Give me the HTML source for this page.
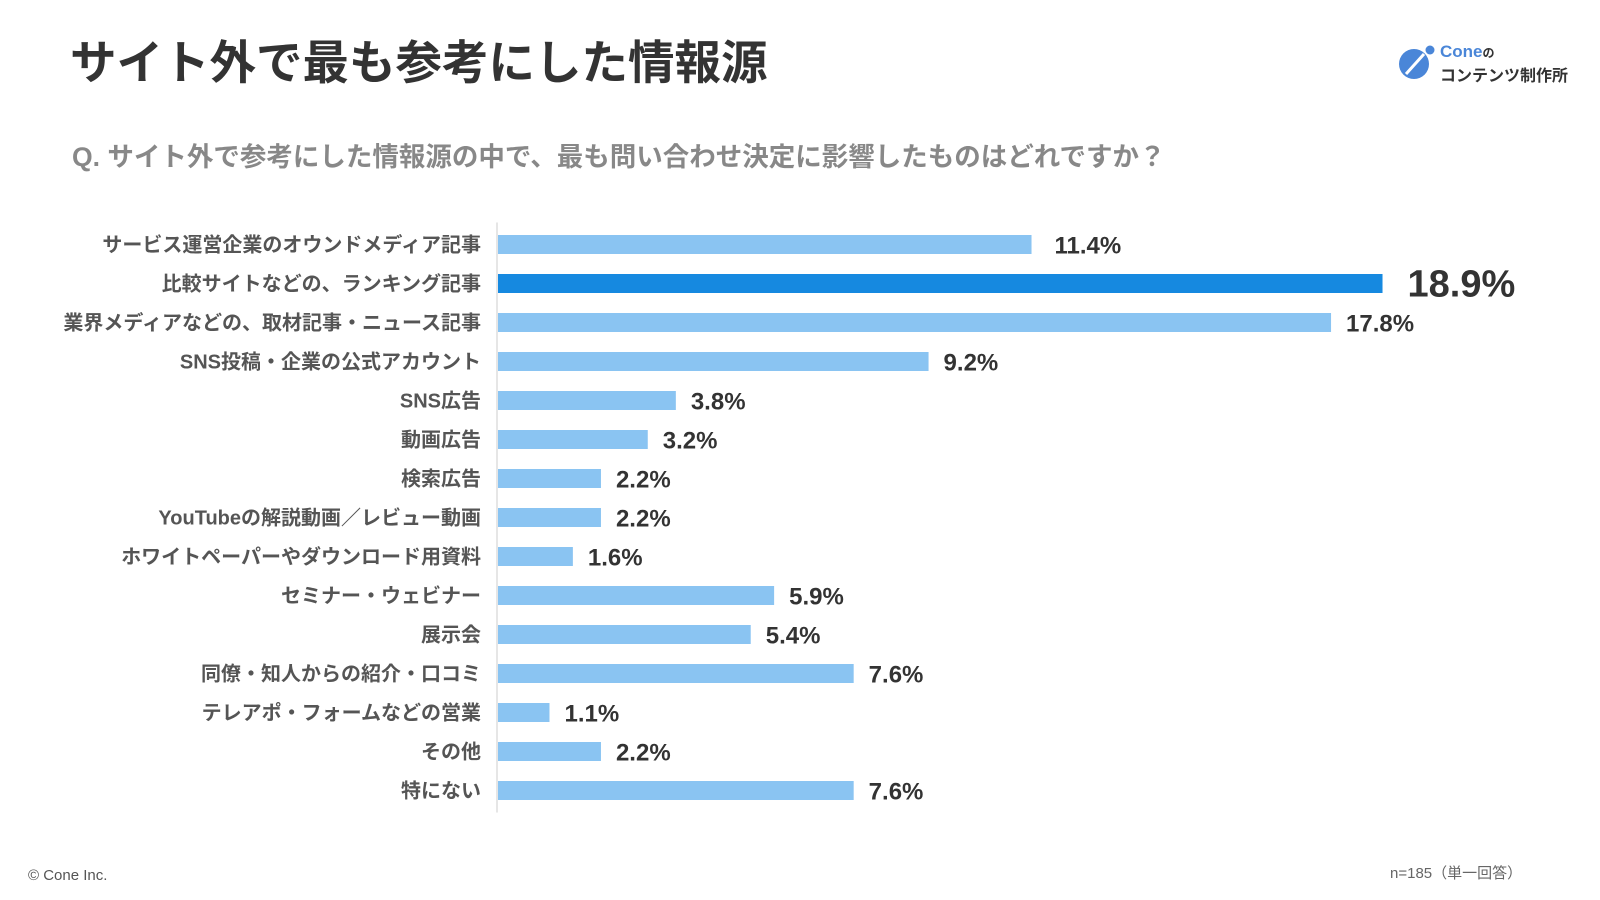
<!DOCTYPE html>
<html><head><meta charset="utf-8">
<style>
body{margin:0;width:1600px;height:900px;background:#fff;overflow:hidden;font-family:"Liberation Sans","Noto Sans CJK JP",sans-serif;position:relative}
.t{position:absolute;white-space:nowrap}
</style></head><body>
<div class="t" style="left:70px;top:26px;font-size:46.5px;font-weight:bold;color:#333">サイト外で最も参考にした情報源</div>
<div class="t" style="left:72px;top:135px;font-size:26.5px;font-weight:bold;color:#888">Q. サイト外で参考にした情報源の中で、最も問い合わせ決定に影響したものはどれですか？</div>
<div style="position:absolute;left:1398px;top:42px;width:190px;height:40px">
<svg width="40" height="40" style="position:absolute;left:0;top:0"><circle cx="16" cy="22" r="15" fill="#4a86d8"/><line x1="8" y1="32" x2="26" y2="12" stroke="#fff" stroke-width="3"/><circle cx="32" cy="8" r="4.5" fill="#4a86d8"/></svg>
<div class="t" style="left:42px;top:0;font-size:17px;color:#4a86d8;font-weight:bold">Cone<span style="color:#333;font-size:12px">の</span></div>
<div class="t" style="left:42px;top:20px;font-size:16px;color:#333;font-weight:bold">コンテンツ制作所</div>
</div>
<svg id="chart" width="1600" height="900" style="position:absolute;left:0;top:0"></svg>
<div class="t" style="left:28px;top:867px;font-size:15px;color:#555">© Cone Inc.</div>
<div class="t" style="left:1390px;top:862px;font-size:15px;color:#666">n=185（単一回答）</div>
<script>
const categories=["サービス運営企業のオウンドメディア記事","比較サイトなどの、ランキング記事","業界メディアなどの、取材記事・ニュース記事","SNS投稿・企業の公式アカウント","SNS広告","動画広告","検索広告","YouTubeの解説動画／レビュー動画","ホワイトペーパーやダウンロード用資料","セミナー・ウェビナー","展示会","同僚・知人からの紹介・口コミ","テレアポ・フォームなどの営業","その他","特にない"];
const values=[11.4,18.9,17.8,9.2,3.8,3.2,2.2,2.2,1.6,5.9,5.4,7.6,1.1,2.2,7.6];
const NS="http://www.w3.org/2000/svg";
const svg=document.getElementById('chart');
const x0=498,pxPer=46.8,y0=244.5,step=39.0,bh=19;
const maxV=Math.max(...values);
const xs=v=>x0+v*pxPer;
const ys=i=>y0+i*step;
const ax=document.createElementNS(NS,'line');


ax.setAttribute('x1',x0-1);ax.setAttribute('x2',x0-1);ax.setAttribute('y1',ys(0)-22);ax.setAttribute('y2',ys(categories.length-1)+22);
ax.setAttribute('stroke','#ddd');ax.setAttribute('stroke-width','1.5');svg.appendChild(ax);
categories.forEach((c,i)=>{
  const v=values[i],hi=v===maxV,cy=ys(i);
  const lb=document.createElementNS(NS,'text');
  
  
  lb.setAttribute('x',481);lb.setAttribute('y',cy+7);lb.setAttribute('text-anchor','end');
  lb.setAttribute('font-size','20');lb.setAttribute('font-weight','bold');lb.setAttribute('fill','#555');
  lb.textContent=c;svg.appendChild(lb);
  const r=document.createElementNS(NS,'rect');
  
  
  r.setAttribute('x',x0);r.setAttribute('y',cy-bh/2);r.setAttribute('width',xs(v)-x0);r.setAttribute('height',bh);
  r.setAttribute('fill',hi?'#1689e0':'#8ac4f2');svg.appendChild(r);
  const t=document.createElementNS(NS,'text');
  
  
  t.setAttribute('x',xs(v)+(hi?25:(i===0?23:15)));t.setAttribute('y',cy+(hi?13:9));
  t.setAttribute('font-size',hi?'38':'24');t.setAttribute('font-weight','bold');t.setAttribute('fill','#333');
  t.textContent=v.toFixed(1)+'%';svg.appendChild(t);
});
</script>
</body></html>
